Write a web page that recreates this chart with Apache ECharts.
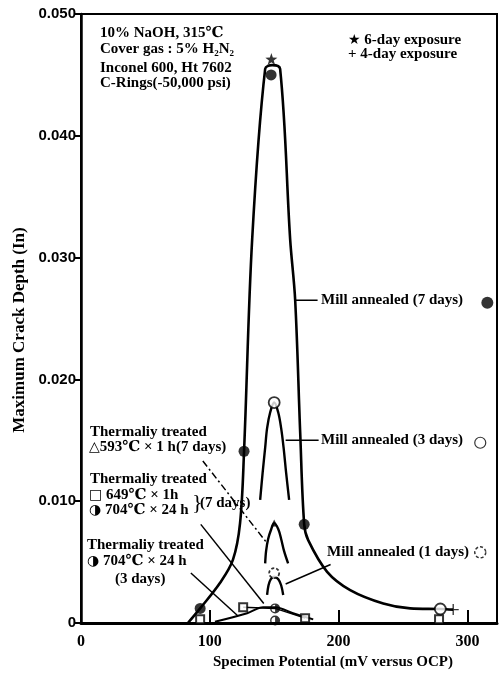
<!DOCTYPE html>
<html>
<head>
<meta charset="utf-8">
<script src="https://cdn.jsdelivr.net/npm/echarts@6/dist/echarts.min.js"></script>
<style>
  html, body { margin: 0; padding: 0; background: #fff; }
  #chart { width: 499px; height: 676px; }
</style>
</head>
<body>
<div id="chart"></div>
<script>
// ---- axis ticks ----
const xTicks = [0, 100, 200, 300];
const yTicks = [0, 0.01, 0.02, 0.03, 0.04, 0.05];

// ---- Mill annealed (7 days): drawn curve and measured points ----
const mill7Curve = [
  [83, 0.0000], [92.5, 0.0012], [108, 0.0033], [118, 0.0052], [123.5, 0.0082],
  [126.6, 0.0141], [132.9, 0.0315], [143, 0.0455], [148.5, 0.0458], [154.6, 0.0455],
  [162.4, 0.0315], [166.3, 0.0265], [170.2, 0.0156], [173.3, 0.0081], [176.4, 0.0068],
  [191.1, 0.0042], [209, 0.0027], [234.7, 0.0016], [255.6, 0.0012], [279, 0.00115],
  [289, 0.0011]
];
const mill7Points = [[92.5, 0.0012], [126.6, 0.0141], [147.6, 0.0450], [173.3, 0.0081]];
const sixDayPoints = [[147.8, 0.0463]];
const fourDayPoints = [[289, 0.0011]];

// ---- Mill annealed (3 days) ----
const mill3Curve = [
  [139.1, 0.0101], [141, 0.0123], [143, 0.0144], [144.5, 0.0160], [146.9, 0.0173],
  [150, 0.0181], [153.1, 0.0173], [155.4, 0.0160], [157.3, 0.0144], [159.3, 0.0123], [161.6, 0.0101]
];
const mill3Points = [[150, 0.0181], [279, 0.00115]];

// ---- Thermally treated 593°C x 1 h (7 days) ----
const tt593Curve = [
  [143, 0.0049], [143.7, 0.0059], [145.3, 0.0069], [147.7, 0.0077], [150, 0.0082],
  [153.2, 0.0077], [155.4, 0.0069], [157.7, 0.0059], [160.8, 0.0049]
];
const tt593Points = [[150, 0.0082]];

// ---- Mill annealed (1 day) ----
const mill1Curve = [
  [144.5, 0.0023], [145.6, 0.0031], [147.4, 0.0036], [150, 0.0038],
  [153.2, 0.0036], [155.4, 0.0031], [157, 0.0023]
];
const mill1Points = [[150, 0.0041]];

// ---- Thermally treated 704°C x 24 h (3 days) ----
const tt704Curve = [[104, 0.0001], [129, 0.0008], [141.4, 0.0013], [150.7, 0.0013], [164.7, 0.0008], [180.3, 0.0003]];
const tt704Points = [[150.7, 0.0012], [150.7, 0.0002]];

// ---- Thermally treated 649°C x 1 h (7 days) ----
const tt649Line = [[125.9, 0.0013], [150.7, 0.0012], [174, 0.0004]];
const tt649Points = [[125.9, 0.0013], [174, 0.0004], [92.5, 0.0003], [278, 0.0003]];

// ---- leader lines from the labels to their curves ----
const leader593 = [[94.6, 0.0133], [143.4, 0.0067]];
const leader7d = [[93, 0.0081], [141.9, 0.0016]];
const leader3d = [[85.3, 0.0041], [121.7, 0.0006]];
const leaderMill1 = [[193.8, 0.0048], [158.9, 0.0032]];
const leaderMill3 = [[158.9, 0.0150], [184.5, 0.0150]];
const leaderMill7 = [[166.7, 0.0265], [183.7, 0.0265]];

// ---- key symbols beside the curve labels ----
const keyMill7 = [[315.5, 0.0263]];
const keyMill3 = [[310, 0.0148]];
const keyMill1 = [[310, 0.0058]];

const SERIF = '"Liberation Serif", "DejaVu Serif", serif';
const SANS = '"Liberation Sans", Arial, sans-serif';
const LABEL_FONT = 'bold 15px ' + SERIF;

const STAR = 'path://M0,-10L2.35,-3.24L9.51,-3.09L3.8,1.24L5.88,8.09L0,4L-5.88,8.09L-3.8,1.24L-9.51,-3.09L-2.35,-3.24Z';
const PLUS = 'path://M-1.2,-10H1.2V-1.2H10V1.2H1.2V10H-1.2V1.2H-10V-1.2H-1.2Z';
const HALF = 'path://M0,-10A10,10 0 1,1 0,10A10,10 0 1,1 0,-10Z M0,-7.2A7.2,7.2 0 0,0 0,7.2Z';

function curve(data, width) {
  return {
    type: 'line', data: data, symbol: 'none', smooth: 0.35,
    lineStyle: { color: '#000', width: width || 2.4 }, z: 2, silent: true
  };
}
function leader(data, dash) {
  return {
    type: 'line', data: data, symbol: 'none',
    lineStyle: { color: '#000', width: 1.5, type: dash || 'solid' }, z: 2, silent: true
  };
}
function marks(data, symbol, size, fill, extra) {
  return {
    type: 'scatter', data: data, symbol: symbol, symbolSize: size,
    itemStyle: Object.assign({ color: fill, borderColor: '#000', borderWidth: 1.6 }, extra || {}),
    z: 5, silent: true
  };
}

// symbol glyphs inside labels come from DejaVu Sans, which has them
const RICH = {
  s: { font: '14px "DejaVu Sans"', fill: '#000' }
};
function txt(text, x, y, opts) {
  return {
    type: 'text', x: x, y: y, silent: true,
    style: Object.assign({
      text: text, font: LABEL_FONT, fill: '#000',
      textAlign: 'left', textVerticalAlign: 'middle', rich: RICH
    }, opts || {})
  };
}

const chart = echarts.init(document.getElementById('chart'), null, { renderer: 'canvas' });
chart.setOption({
  animation: false,
  backgroundColor: '#fff',
  grid: { left: 81, right: 2, top: 14, bottom: 53, show: true, borderColor: '#000', borderWidth: 2, backgroundColor: 'transparent' },
  xAxis: {
    type: 'value', min: 0, max: 323, interval: 100,
    axisLine: { show: true, onZero: false, lineStyle: { color: '#000', width: 3 } },
    axisTick: { show: true, inside: true, length: 13, lineStyle: { color: '#000', width: 2 } },
    axisLabel: {
      show: true, margin: 11, color: '#000', fontSize: 16, fontWeight: 'bold', fontFamily: SERIF,
      showMaxLabel: false, hideOverlap: false,
      formatter: v => (xTicks.indexOf(v) >= 0 ? String(v) : '')
    },
    splitLine: { show: false }
  },
  yAxis: {
    type: 'value', min: 0, max: 0.05, interval: 0.01,
    axisLine: { show: true, lineStyle: { color: '#000', width: 2.5 } },
    axisTick: { show: true, inside: false, length: 6, lineStyle: { color: '#000', width: 2 } },
    axisLabel: {
      show: true, margin: 5, color: '#000', fontSize: 15, fontWeight: 'bold', fontFamily: SANS,
      hideOverlap: false,
      formatter: v => {
        const t = yTicks.find(k => Math.abs(k - v) < 1e-9);
        if (t === undefined) return '';
        return t === 0 ? '0' : t.toFixed(3);
      }
    },
    splitLine: { show: false }
  },
  series: [
    curve(mill7Curve, 2.6),
    curve(mill3Curve),
    curve(tt593Curve),
    curve(mill1Curve),
    curve(tt704Curve, 2),
    leader(tt649Line),
    leader(leader593, [7, 3, 2, 3]),
    leader(leader7d),
    leader(leader3d),
    leader(leaderMill1),
    leader(leaderMill3),
    leader(leaderMill7),
    marks(tt649Points, 'rect', 8, '#fff', { borderWidth: 2 }),
    marks(tt704Points, HALF, 10, '#000', { borderWidth: 0 }),
    marks(mill3Points, 'circle', 11, '#fff', { borderWidth: 1.8 }),
    marks(mill7Points, 'circle', 11, '#000', { borderWidth: 0 }),
    marks(tt593Points, 'triangle', 7, '#000', { borderWidth: 0 }),
    marks(mill1Points, 'circle', 10, '#fff', { borderWidth: 1.8, borderType: [3, 2] }),
    marks(sixDayPoints, STAR, 12, '#000', { borderWidth: 0 }),
    marks(fourDayPoints, PLUS, 11, '#000', { borderWidth: 0 }),
    marks(keyMill7, 'circle', 12, '#000', { borderWidth: 0 }),
    marks(keyMill3, 'circle', 11, '#fff', { borderWidth: 1.2 }),
    marks(keyMill1, 'circle', 11, '#fff', { borderWidth: 1.5, borderType: [3, 2] })
  ],
  graphic: [
    // test conditions
    txt('10% NaOH, 315\u2103', 100, 33),
    txt('Cover gas : 5% H\u2082N\u2082', 100, 49),
    txt('Inconel 600, Ht 7602', 100, 68),
    txt('C-Rings(-50,000 psi)', 100, 83),
    // exposure key
    txt('{s|\u2605} 6-day exposure', 348, 40),
    txt('+ 4-day exposure', 348, 54),
    // curve labels
    txt('Mill annealed (7 days)', 321, 300),
    txt('Mill annealed (3 days)', 321, 440),
    txt('Mill annealed (1 days)', 327, 552),
    txt('Thermaliy treated', 90, 432),
    txt('{s|\u25B3}593\u2103 \u00D7 1 h(7 days)', 89, 447),
    txt('Thermaliy treated', 90, 479),
    txt('{s|\u25A1} 649\u2103 \u00D7 1h', 89, 495),
    txt('{s|\u25D1} 704\u2103 \u00D7 24 h', 89, 510),
    txt('}', 192, 503, { font: '22px ' + SERIF }),
    txt('(7 days)', 200, 503),
    txt('Thermaliy treated', 87, 545),
    txt('{s|\u25D1} 704\u2103 \u00D7 24 h', 87, 561),
    txt('(3 days)', 115, 579),
    // axis names
    txt('Specimen Potential (mV versus OCP)', 333, 662, { textAlign: 'center', font: 'bold 15px ' + SERIF }),
    {
      type: 'text', x: 20, y: 330, rotation: Math.PI / 2, silent: true,
      style: { text: 'Maximum Crack Depth (In)', font: 'bold 17px ' + SERIF, fill: '#000', textAlign: 'center', textVerticalAlign: 'middle' }
    }
  ]
});
</script>
</body>
</html>
